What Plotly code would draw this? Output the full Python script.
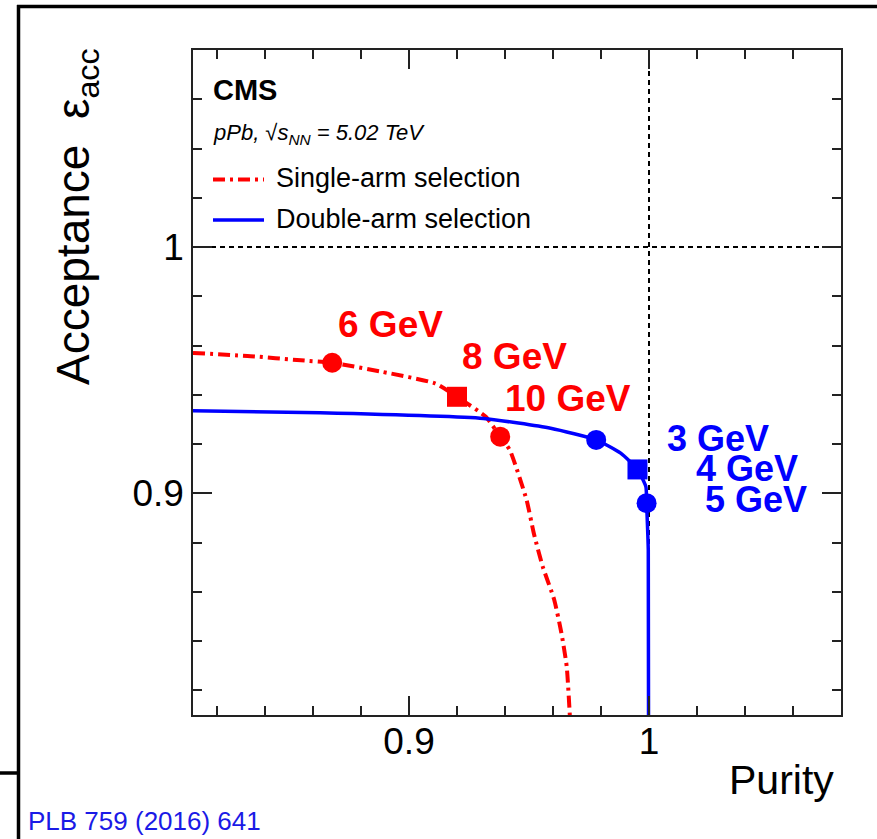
import plotly.graph_objects as go

# ---- data -------------------------------------------------------------
# Single-arm selection curve (purity, acceptance)
single_purity = [0.810, 0.834, 0.855, 0.868, 0.889, 0.911, 0.920, 0.932, 0.938,
                 0.942, 0.949, 0.952, 0.9557, 0.9605, 0.9635, 0.9657, 0.967]
single_accept = [0.957, 0.9557, 0.954, 0.953, 0.9493, 0.9446, 0.9392, 0.9311, 0.923,
                 0.9176, 0.8973, 0.8838, 0.8703, 0.8568, 0.8433, 0.8298, 0.810]

# Double-arm selection curve
double_purity = [0.810, 0.863, 0.931, 0.959, 0.978, 0.9882, 0.9952, 0.9987, 0.999,
                 0.9997, 0.9998]
double_accept = [0.9335, 0.9327, 0.9304, 0.9264, 0.9217, 0.9163, 0.9097, 0.9027, 0.896,
                 0.877, 0.810]

# Working points for each threshold
single_thr = ["6 GeV", "8 GeV", "10 GeV"]
single_thr_purity = [0.868, 0.920, 0.938]
single_thr_accept = [0.953, 0.9392, 0.923]
single_thr_symbol = ["circle", "square", "circle"]

double_thr = ["3 GeV", "4 GeV", "5 GeV"]
double_thr_purity = [0.978, 0.9952, 0.999]
double_thr_accept = [0.9217, 0.9097, 0.896]
double_thr_symbol = ["circle", "square", "circle"]

# label anchor positions (data coordinates)
single_lbl_x = [0.8922, 0.944, 0.9663]
single_lbl_y = [0.9687, 0.9554, 0.9386]
double_lbl_x = [1.0289, 1.0407, 1.0446]
double_lbl_y = [0.9223, 0.9102, 0.8973]

X_RANGE = [0.81, 1.08]
Y_RANGE = [0.81, 1.08]

RED = "#ff0000"
BLUE = "#0000ff"
FONT = "Liberation Sans, Arial, Helvetica, sans-serif"

W, H = 877, 839
ML, MR, MT, MB = 193, 36, 50, 124
PW, PH = W - ML - MR, H - MT - MB


def px(xp):
    return (xp - ML) / PW


def py(yp):
    return (H - MB - yp) / PH


fig = go.Figure()

fig.add_trace(go.Scatter(
    x=single_purity, y=single_accept, mode="lines",
    line=dict(color=RED, width=4, dash="12px,5px,3px,5px", shape="spline", smoothing=0.5),
    showlegend=False, hoverinfo="skip"))
fig.add_trace(go.Scatter(
    x=double_purity, y=double_accept, mode="lines",
    line=dict(color=BLUE, width=3.5, shape="spline", smoothing=0.5),
    showlegend=False, hoverinfo="skip"))

fig.add_trace(go.Scatter(
    x=single_thr_purity, y=single_thr_accept, mode="markers",
    marker=dict(color=RED, size=20, symbol=single_thr_symbol, line=dict(width=0)),
    showlegend=False, hovertext=single_thr, hoverinfo="text"))
fig.add_trace(go.Scatter(
    x=double_thr_purity, y=double_thr_accept, mode="markers",
    marker=dict(color=BLUE, size=20, symbol=double_thr_symbol, line=dict(width=0)),
    showlegend=False, hovertext=double_thr, hoverinfo="text"))

annotations = []
for t, x, y in zip(single_thr, single_lbl_x, single_lbl_y):
    annotations.append(dict(x=x, y=y, xref="x", yref="y", text=f"<b>{t}</b>",
                            showarrow=False, font=dict(family=FONT, size=37, color=RED)))
for t, x, y in zip(double_thr, double_lbl_x, double_lbl_y):
    annotations.append(dict(x=x, y=y, xref="x", yref="y", text=f"<b>{t}</b>",
                            showarrow=False, font=dict(family=FONT, size=36, color=BLUE)))

# header texts and legend
annotations += [
    dict(x=px(211), y=py(90), xref="paper", yref="paper", xanchor="left", yanchor="middle",
         text="<b>CMS</b>", showarrow=False, font=dict(family=FONT, size=29, color="black")),
    dict(x=px(211), y=py(134), xref="paper", yref="paper", xanchor="left", yanchor="middle",
         text="<i>pPb, √s<sub>NN</sub> = 5.02 TeV</i>", showarrow=False,
         font=dict(family=FONT, size=22, color="black")),
    dict(x=px(274), y=py(178), xref="paper", yref="paper", xanchor="left", yanchor="middle",
         text="Single-arm selection", showarrow=False,
         font=dict(family=FONT, size=27, color="black")),
    dict(x=px(274), y=py(219), xref="paper", yref="paper", xanchor="left", yanchor="middle",
         text="Double-arm selection", showarrow=False,
         font=dict(family=FONT, size=27, color="black")),
    # axis titles
    dict(x=px(836), y=py(780), xref="paper", yref="paper", xanchor="right", yanchor="middle",
         text="Purity", showarrow=False, font=dict(family=FONT, size=41, color="black")),
    dict(x=px(76), y=py(217), xref="paper", yref="paper", xanchor="center", yanchor="middle",
         text="Acceptance  ε<sub>acc</sub>", textangle=-90, showarrow=False,
         font=dict(family=FONT, size=46, color="black")),
    # reference
    dict(x=px(26), y=py(821), xref="paper", yref="paper", xanchor="left", yanchor="middle",
         text="PLB 759 (2016) 641", showarrow=False,
         font=dict(family=FONT, size=26, color="#1a1ae6")),
]

shapes = [
    # reference lines at purity = 1 and acceptance = 1
    dict(type="line", xref="x", yref="y", x0=1, x1=1, y0=Y_RANGE[0], y1=Y_RANGE[1],
         line=dict(color="black", width=2, dash="5px,4px"), layer="below"),
    dict(type="line", xref="x", yref="y", x0=X_RANGE[0], x1=X_RANGE[1], y0=1, y1=1,
         line=dict(color="black", width=2, dash="5px,4px"), layer="below"),
    # legend samples
    dict(type="line", xref="paper", yref="paper", x0=px(213), x1=px(264), y0=py(179.5), y1=py(179.5),
         line=dict(color=RED, width=4, dash="12px,5px,3px,5px")),
    dict(type="line", xref="paper", yref="paper", x0=px(213), x1=px(264), y0=py(220), y1=py(220),
         line=dict(color=BLUE, width=3.5)),
    # page frame
    dict(type="line", xref="paper", yref="paper", x0=px(17), x1=px(W + 2), y0=py(6.5), y1=py(6.5),
         line=dict(color="black", width=3.5)),
    dict(type="line", xref="paper", yref="paper", x0=px(18.5), x1=px(18.5), y0=py(5), y1=py(H + 2),
         line=dict(color="black", width=3.5)),
    dict(type="line", xref="paper", yref="paper", x0=px(-2), x1=px(18.5), y0=py(773), y1=py(773),
         line=dict(color="black", width=3.5)),
]

axis_common = dict(
    showline=True, linecolor="#222222", linewidth=1.5, mirror="allticks",
    ticks="inside", ticklen=19, tickwidth=1.5, tickcolor="#222222",
    showgrid=False, zeroline=False, tick0=0, dtick=0.1,
    minor=dict(ticks="inside", ticklen=9, tickwidth=1.5, tickcolor="#222222", dtick=0.02,
               tick0=0, showgrid=False),
    tickfont=dict(family=FONT, size=37, color="black"),
)

fig.update_layout(
    width=W, height=H,
    margin=dict(l=ML, r=MR, t=MT, b=MB, autoexpand=False),
    paper_bgcolor="white", plot_bgcolor="white",
    xaxis=dict(range=X_RANGE, tickvals=[0.9, 1.0], ticktext=["0.9", "1"],
               ticklabelstandoff=-7, **axis_common),
    yaxis=dict(range=Y_RANGE, tickvals=[0.9, 1.0], ticktext=["0.9", "1"], **axis_common),
    annotations=annotations, shapes=shapes, showlegend=False,
)

fig.write_html("out.html")
